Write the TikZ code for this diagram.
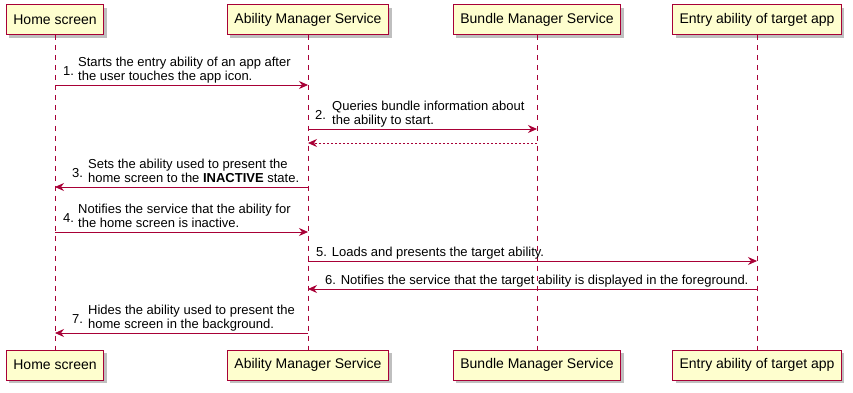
\documentclass[tikz,border=0pt]{standalone}
\usepackage{fontspec}
\setmainfont{Liberation Sans}
\usetikzlibrary{arrows.meta,shadows}
\definecolor{pu}{HTML}{A80036}
\definecolor{pubg}{HTML}{FEFECE}
\begin{document}
\begin{tikzpicture}[x=1pt,y=-1pt,
  part/.style={draw=pu, fill=pubg, line width=1pt, minimum height=30pt, inner xsep=7pt,
    font=\fontsize{14}{16}\selectfont,
    drop shadow={shadow xshift=3pt, shadow yshift=-3pt, fill=black, opacity=0.25}},
  life/.style={draw=pu, dash pattern=on 5pt off 5pt, line width=0.8pt},
  msg/.style={draw=pu, line width=0.8pt, -{Stealth[length=9pt,width=8pt,inset=3pt]}},
  ret/.style={msg, dash pattern=on 2pt off 2pt},
  txt/.style={font=\fontsize{13}{14}\selectfont, inner sep=0pt, anchor=base west, align=left},
]
\useasboundingbox (0,0) rectangle (853,393);
% participants
\node[part] (hT) at (55,20) {Home screen};
\node[part] (aT) at (308,20) {Ability Manager Service};
\node[part] (bT) at (537,20) {Bundle Manager Service};
\node[part] (eT) at (757,20) {Entry ability of target app};
\node[part] (hB) at (55,365) {Home screen};
\node[part] (aB) at (308,365) {Ability Manager Service};
\node[part] (bB) at (537,365) {Bundle Manager Service};
\node[part] (eB) at (757,365) {Entry ability of target app};
% lifelines
\draw[life] (hT) -- (hB);
\draw[life] (aT) -- (aB);
\draw[life] (bT) -- (bB);
\draw[life] (eT) -- (eB);
% message coordinates
\coordinate (h1) at (55,85);  \coordinate (a1) at (308,85);
\coordinate (a2) at (308,129); \coordinate (b2) at (537,129);
\coordinate (b2r) at (537,143); \coordinate (a2r) at (308,143);
\coordinate (a3) at (308,187); \coordinate (h3) at (55,187);
\coordinate (h4) at (55,232); \coordinate (a4) at (308,232);
\coordinate (a5) at (308,261); \coordinate (e5) at (757,261);
\coordinate (e6) at (757,289); \coordinate (a6) at (308,289);
\coordinate (a7) at (308,333); \coordinate (h7) at (55,333);
% messages
\draw[msg] (h1) -- (a1);
\node[txt] (n1) at (63,75.5) {1.};
\node[txt] (t1) at (78,80.5) {Starts the entry ability of an app after\\the user touches the app icon.};
\draw[msg] (a2) -- (b2);
\node[txt] (n2) at (315,119.5) {2.};
\node[txt] (t2) at (332,124.5) {Queries bundle information about\\the ability to start.};
\draw[ret] (b2r) -- (a2r);
\draw[msg] (a3) -- (h3);
\node[txt] (n3) at (72,177.5) {3.};
\node[txt] (t3) at (88,182.5) {Sets the ability used to present the\\home screen to the \textbf{INACTIVE} state.};
\draw[msg] (h4) -- (a4);
\node[txt] (n4) at (63,222.5) {4.};
\node[txt] (t4) at (78,227.5) {Notifies the service that the ability for\\the home screen is inactive.};
\draw[msg] (a5) -- (e5);
\node[txt] (t5) at (316,256.5) {5. Loads and presents the target ability.};
\draw[msg] (e6) -- (a6);
\node[txt] (t6) at (325,284.5) {6. Notifies the service that the target ability is displayed in the foreground.};
\draw[msg] (a7) -- (h7);
\node[txt] (n7) at (72,323.5) {7.};
\node[txt] (t7) at (88,328.5) {Hides the ability used to present the\\home screen in the background.};
\end{tikzpicture}
\end{document}
